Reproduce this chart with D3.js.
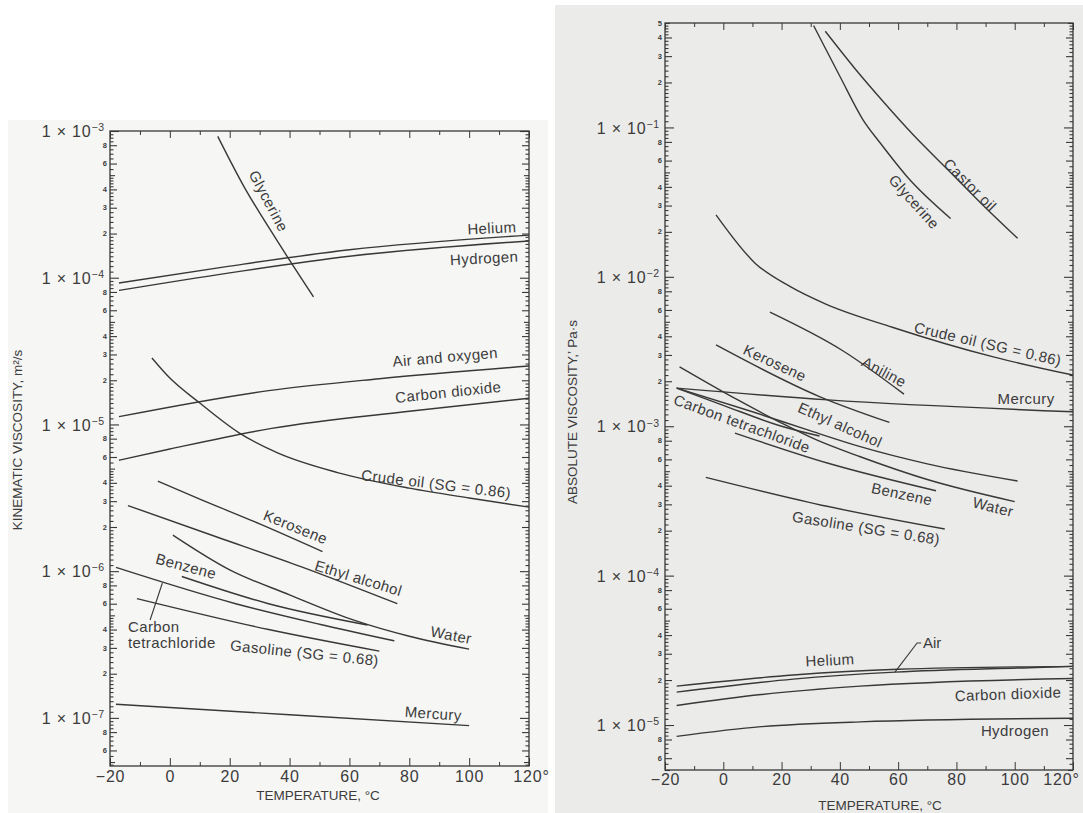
<!DOCTYPE html>
<html>
<head>
<meta charset="utf-8">
<script src="https://cdn.jsdelivr.net/npm/d3@7"></script>
<style>
  body { margin: 0; background: #fff; }
  svg text { font-family: "Liberation Sans", Arial, sans-serif; fill: #3c3c3c; }
</style>
</head>
<body>
<svg id="chart" width="1083" height="813"></svg>
<script>
// ---- data (temperature °C, viscosity) ----
const tempTicks = [-20, 0, 20, 40, 60, 80, 100, 120];
const tempMinorTicks = [-10, 10, 30, 50, 70, 90, 110];
const logSteps = [1, 1.1, 1.2, 1.3, 1.4, 1.5, 1.6, 1.7, 1.8, 1.9, 2, 2.2, 2.4, 2.6, 2.8,
                  3, 3.2, 3.4, 3.6, 3.8, 4, 4.2, 4.4, 4.6, 4.8, 5, 5.5, 6, 6.5, 7, 7.5, 8, 8.5, 9, 9.5];
const labelledSteps = [2, 3, 4, 6, 8];

const kinDomain = [4.7e-8, 1e-3];
const absDomain = [5e-6, 5e-1];

// kinematic viscosity, m²/s
const kinGlycerine = [[16, 9.2e-4], [25, 4.1e-4], [34, 2.05e-4], [48, 7.4e-5]];
const kinHelium = [[-17, 9.2e-5], [20, 1.2e-4], [60, 1.55e-4], [120, 1.95e-4]];
const kinHydrogen = [[-17, 8.2e-5], [20, 1.08e-4], [60, 1.4e-4], [120, 1.78e-4]];
const kinAir = [[-17, 1.13e-5], [33, 1.7e-5], [70, 2.05e-5], [120, 2.5e-5]];
const kinCO2 = [[-17, 5.7e-6], [0, 6.8e-6], [34, 9.4e-6], [80, 1.23e-5], [120, 1.51e-5]];
const kinCrude = [[-6, 2.84e-5], [0, 2.07e-5], [10, 1.4e-5], [23, 8.8e-6], [36, 6.4e-6],
                  [56, 4.7e-6], [80, 3.68e-6], [100, 3.15e-6], [120, 2.73e-6]];
const kinKerosene = [[-4, 4.1e-6], [10, 3.1e-6], [30, 2.1e-6], [51, 1.36e-6]];
const kinEthyl = [[-14, 2.8e-6], [15, 1.73e-6], [44, 1.07e-6], [76, 6.0e-7]];
const kinWater = [[1, 1.76e-6], [20, 1.02e-6], [40, 6.9e-7], [62, 4.6e-7], [80, 3.6e-7], [100, 2.94e-7]];
const kinBenzene = [[4, 9.2e-7], [33, 6.0e-7], [66, 4.3e-7]];
const kinCCl4 = [[-18, 1.06e-6], [22, 6.0e-7], [50, 4.35e-7], [75, 3.35e-7]];
const kinGasoline = [[-11, 6.5e-7], [33, 4.0e-7], [70, 2.85e-7]];
const kinMercury = [[-18, 1.24e-7], [40, 1.05e-7], [100, 8.85e-8]];

// absolute viscosity, Pa·s
const absCastor = [[35, 0.44], [45, 0.25], [55, 0.148], [65, 0.09], [78, 0.05], [90, 0.029], [101, 0.0181]];
const absGlycerine = [[31, 0.48], [40, 0.22], [48, 0.112], [54, 0.078], [63, 0.047], [78, 0.0246]];
const absCrude = [[-2.5, 0.026], [11, 0.0123], [23, 0.0086], [35, 0.0066], [58, 0.0046], [93, 0.0029], [120, 0.0022]];
const absAniline = [[16, 0.0058], [41, 0.0032], [62, 0.00164]];
const absKerosene = [[-2.5, 0.0035], [33, 0.00158], [57, 0.00106]];
const absMercury = [[-16, 0.0018], [36, 0.0015], [120, 0.00125]];
const absWater = [[-15, 2.5e-3], [5, 1.5e-3], [20, 1.05e-3], [32, 8.1e-4], [47, 6.25e-4], [70, 4.4e-4], [100, 3.13e-4]];
const absEthyl = [[-16, 1.8e-3], [10, 1.25e-3], [30, 9.3e-4], [47, 7.3e-4], [70, 5.6e-4], [101, 4.3e-4]];
const absCCl4 = [[-16, 1.8e-3], [0, 1.38e-3], [20, 1.0e-3], [33, 8.6e-4]];
const absBenzene = [[4, 9.0e-4], [36, 5.65e-4], [73, 3.7e-4]];
const absGasoline = [[-6, 4.55e-4], [36, 2.9e-4], [76, 2.05e-4]];
const absHelium = [[-16, 1.82e-5], [24, 2.16e-5], [60, 2.36e-5], [120, 2.47e-5]];
const absAir = [[-16, 1.66e-5], [24, 2.03e-5], [59, 2.26e-5], [105, 2.42e-5], [120, 2.47e-5]];
const absCO2 = [[-16, 1.35e-5], [13, 1.6e-5], [47, 1.82e-5], [120, 2.05e-5]];
const absHydrogen = [[-16, 8.4e-6], [13, 9.75e-6], [47, 1.05e-5], [120, 1.11e-5]];

// curve labels: [text, T, value, angle]
const kinLabels = [
  ['Glycerine', 33, 3.33e-4, 62], ['Helium', 107.6, 2.18e-4, -3], ['Hydrogen', 105, 1.36e-4, -3],
  ['Air and oxygen', 92, 2.88e-5, -5], ['Carbon dioxide', 93, 1.66e-5, -6],
  ['Crude oil (SG = 0.86)', 89, 3.93e-6, 7], ['Kerosene', 42, 2.0e-6, 22],
  ['Ethyl alcohol', 63, 8.97e-7, 17], ['Water', 94, 3.67e-7, 11], ['Benzene', 5.4, 1.08e-6, 15],
  ['Gasoline (SG = 0.68)', 45, 2.77e-7, 6], ['Mercury', 88, 1.07e-7, 4]
];
const absLabels = [
  ['Castor oil', 84.7, 0.0412, 45], ['Glycerine', 65.5, 0.0317, 48],
  ['Crude oil (SG = 0.86)', 90.8, 0.00355, 13], ['Aniline', 55.2, 0.00231, 28],
  ['Mercury', 103.9, 0.00152, 0], ['Kerosene', 17.7, 0.00265, 25],
  ['Ethyl alcohol', 40.1, 0.00102, 24], ['Carbon tetrachloride', 6.4, 0.00104, 20],
  ['Benzene', 61.3, 3.52e-4, 12], ['Water', 92.6, 2.88e-4, 14],
  ['Gasoline (SG = 0.68)', 49, 2.08e-4, 9], ['Helium', 36.6, 2.72e-5, -3],
  ['Carbon dioxide', 97.7, 1.61e-5, -2], ['Hydrogen', 100.1, 9.1e-6, 0]
];

const INK = '#383838';
const svg = d3.select('#chart');

// panel backgrounds
svg.append('rect').attr('x', 8).attr('y', 120).attr('width', 540).attr('height', 693).attr('fill', '#f6f6f4');
svg.append('rect').attr('x', 555).attr('y', 5).attr('width', 528).attr('height', 808).attr('fill', '#ebebea');

function logTicks(domain) {
    const out = [];
    for (let e = Math.floor(Math.log10(domain[0])); e <= Math.ceil(Math.log10(domain[1])); e++) {
        logSteps.forEach(m => {
            const v = +(m * Math.pow(10, e)).toPrecision(6);
            if (v >= domain[0] * 0.999 && v <= domain[1] * 1.001) out.push({ v, m, e });
        });
    }
    return out;
}

function drawPanel(cfg) {
    const x = d3.scaleLinear().domain([-20, 120]).range([cfg.left, cfg.right]);
    const y = d3.scaleLog().domain(cfg.yDomain).range([cfg.bottom, cfg.top]);
    const g = svg.append('g').attr('color', INK);

    // y ticks, grouped by length, on both sides pointing inward
    const ticks = logTicks(cfg.yDomain);
    const tickLen = t => t.m === 1 ? 9 : labelledSteps.includes(t.m) ? 7 : t.m === 5 ? 5 : 3.5;
    d3.groups(ticks, tickLen).forEach(([len, group]) => {
        const vals = group.map(t => t.v);
        g.append('g').attr('transform', `translate(${cfg.left},0)`)
            .call(d3.axisLeft(y).tickValues(vals).tickSizeInner(-len).tickSizeOuter(0).tickFormat(''))
            .call(a => a.select('.domain').remove());
        g.append('g').attr('transform', `translate(${cfg.right},0)`)
            .call(d3.axisRight(y).tickValues(vals).tickSizeInner(-len).tickSizeOuter(0).tickFormat(''))
            .call(a => a.select('.domain').remove());
    });
    g.selectAll('.tick line').attr('stroke-width', 1.1);

    // y tick labels
    ticks.forEach(t => {
        if (t.m === 1) {
            const txt = g.append('text').attr('x', cfg.left - 5).attr('y', y(t.v)).attr('dy', '0.38em')
                .attr('text-anchor', 'end').style('font-size', '16px').style('letter-spacing', '0.8px');
            txt.append('tspan').text('1 × 10');
            txt.append('tspan').attr('dy', '-0.55em').style('font-size', '10.5px').text('−' + Math.abs(t.e));
        } else if (labelledSteps.includes(t.m) || (t.m === 5 && Math.abs(t.v - cfg.yDomain[1]) < 1e-9)) {
            g.append('text').attr('x', cfg.left - 3).attr('y', y(t.v)).attr('dy', '0.35em')
                .attr('text-anchor', 'end').style('font-size', '7.5px').style('font-weight', 'bold')
                .text(t.m);
        }
    });

    // x axes
    const fmt = d => d === 120 ? '120°' : d < 0 ? '−' + Math.abs(d) : d;
    g.append('g').attr('transform', `translate(0,${cfg.bottom})`)
        .call(d3.axisBottom(x).tickValues(tempTicks).tickSizeInner(-8).tickSizeOuter(0)
            .tickPadding(cfg.tickPad).tickFormat(fmt))
        .call(a => a.select('.domain').remove())
        .call(a => a.selectAll('text').style('font-size', '16px').style('letter-spacing', '0.8px')
            .style('font-family', '"Liberation Sans", Arial, sans-serif').attr('fill', '#3c3c3c'))
        .call(a => a.selectAll('.tick').filter(d => d === 120).select('text').attr('dx', cfg.lastDx));
    g.append('g').attr('transform', `translate(0,${cfg.bottom})`)
        .call(d3.axisBottom(x).tickValues(tempMinorTicks).tickSizeInner(-4).tickSizeOuter(0).tickFormat(''))
        .call(a => a.select('.domain').remove());
    g.append('g').attr('transform', `translate(0,${cfg.top})`)
        .call(d3.axisTop(x).tickValues(tempTicks).tickSizeInner(-7).tickSizeOuter(0).tickFormat(''))
        .call(a => a.select('.domain').remove());
    g.append('g').attr('transform', `translate(0,${cfg.top})`)
        .call(d3.axisTop(x).tickValues(tempMinorTicks).tickSizeInner(-4).tickSizeOuter(0).tickFormat(''))
        .call(a => a.select('.domain').remove());

    // frame
    g.append('rect').attr('x', cfg.left).attr('y', cfg.top)
        .attr('width', cfg.right - cfg.left).attr('height', cfg.bottom - cfg.top)
        .attr('fill', 'none').attr('stroke', INK).attr('stroke-width', 1.3);

    // curves
    const line = d3.line().x(d => x(d[0])).y(d => y(d[1])).curve(d3.curveMonotoneX);
    g.selectAll('.curve').data(cfg.series).enter().append('path')
        .attr('class', 'curve')
        .attr('d', line)
        .attr('fill', 'none').attr('stroke', INK).attr('stroke-width', 1.4);

    // curve labels
    cfg.labels.forEach(([name, t, v, ang]) => {
        const px = x(t), py = y(v);
        g.append('text').attr('x', px).attr('y', py).attr('dy', '0.35em')
            .attr('text-anchor', 'middle').attr('transform', `rotate(${ang},${px},${py})`)
            .style('font-size', '15px').style('letter-spacing', '0.4px').text(name);
    });

    // axis titles
    g.append('text').attr('transform', `translate(${cfg.yTitleX},${cfg.yTitleY}) rotate(-90)`)
        .attr('text-anchor', 'middle').style('font-size', '13.5px').text(cfg.yTitle);
    g.append('text').attr('x', cfg.xTitleX).attr('y', cfg.xTitleY)
        .attr('text-anchor', 'middle').style('font-size', '13.5px').text('TEMPERATURE, °C');

    return { g, x, y };
}

// left: kinematic viscosity
const left = drawPanel({
    left: 110, right: 529, top: 131, bottom: 766, yDomain: kinDomain, tickPad: 5, lastDx: 2,
    series: [kinGlycerine, kinHelium, kinHydrogen, kinAir, kinCO2, kinCrude, kinKerosene,
             kinEthyl, kinWater, kinBenzene, kinCCl4, kinGasoline, kinMercury],
    labels: kinLabels,
    yTitle: 'KINEMATIC VISCOSITY, m²/s', yTitleX: 22, yTitleY: 440,
    xTitleX: 318, xTitleY: 800
});
// two-line label with leader for carbon tetrachloride
[['Carbon', 4.16e-7], ['tetrachloride', 3.24e-7]].forEach(([s, v]) => {
    left.g.append('text').attr('x', left.x(-14)).attr('y', left.y(v)).attr('dy', '0.35em')
        .style('font-size', '15px').style('letter-spacing', '0.4px').text(s);
});
left.g.append('path')
    .attr('d', d3.line().x(d => left.x(d[0])).y(d => left.y(d[1]))([[-6.6, 4.65e-7], [-2.5, 8.3e-7]]))
    .attr('stroke', INK).attr('stroke-width', 1.1).attr('fill', 'none');

// right: absolute viscosity
const right = drawPanel({
    left: 665, right: 1073, top: 23, bottom: 770, yDomain: absDomain, tickPad: 4, lastDx: -12,
    series: [absCastor, absGlycerine, absCrude, absAniline, absKerosene, absMercury, absEthyl,
             absWater, absCCl4, absBenzene, absGasoline, absHelium, absAir, absCO2, absHydrogen],
    labels: absLabels,
    yTitle: 'ABSOLUTE VISCOSITY,’ Pa·s', yTitleX: 577, yTitleY: 412,
    xTitleX: 880, xTitleY: 810
});
right.g.append('text').attr('x', right.x(68.5)).attr('y', right.y(3.54e-5)).attr('dy', '0.35em')
    .style('font-size', '15px').text('Air');
right.g.append('path')
    .attr('d', d3.line().x(d => right.x(d[0])).y(d => right.y(d[1]))([[67.9, 3.54e-5], [66.5, 3.54e-5], [58.9, 2.26e-5]]))
    .attr('stroke', INK).attr('stroke-width', 1.1).attr('fill', 'none');
</script>
</body>
</html>
